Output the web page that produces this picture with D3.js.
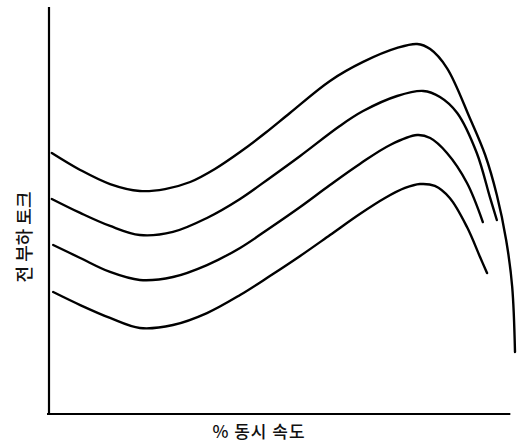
<!DOCTYPE html>
<html>
<head>
<meta charset="utf-8">
<script src="https://cdn.jsdelivr.net/npm/d3@7"></script>
<style>
  html, body { margin: 0; padding: 0; background: #fff; }
  svg { display: block; }
  .lbl { font-family: "Noto Sans CJK KR", "Noto Sans", sans-serif; fill: #111; }
</style>
</head>
<body>
<svg id="chart" width="521" height="447"></svg>
<script>
// Torque–speed curves: % synchronous speed vs. torque, four load families
const speed1  = [0.6, 6.7, 13.1, 19.5, 24.9, 30.3, 35.6, 41.0, 46.4, 51.7, 60.3, 67.4, 74.7, 79.0, 81.8, 85.4, 90.3, 93.6, 96.1, 98.1, 99.4, 100];
const torque1 = [192.4, 179.9, 169.5, 164.4, 165.8, 171.0, 180.6, 193.1, 207.1, 221.9, 245.5, 259.5, 269.8, 272.7, 269.0, 255.0, 218.2, 190.9, 161.4, 128.3, 93.6, 45.7];

const speed2  = [0.6, 6.7, 13.1, 19.5, 26.6, 33.9, 41.0, 47.4, 53.9, 62.4, 67.4, 74.7, 80.3, 83.9, 87.6, 91.8, 94.6, 96.1];
const torque2 = [158.5, 148.2, 138.6, 131.9, 134.2, 144.5, 158.5, 174.0, 190.2, 212.3, 223.3, 234.4, 238.1, 233.7, 221.9, 192.4, 160.0, 143.0];

const speed3  = [0.9, 6.7, 13.1, 19.5, 26.6, 33.9, 41.0, 47.4, 53.9, 60.3, 66.7, 73.2, 79.0, 81.8, 85.4, 89.7, 93.1];
const torque3 = [124.6, 115.0, 104.7, 98.8, 101.0, 109.8, 122.4, 137.1, 152.6, 168.8, 184.3, 198.3, 205.6, 203.4, 192.4, 170.3, 141.5];

const speed4  = [0.9, 6.7, 13.1, 19.5, 26.6, 33.9, 41.0, 47.4, 53.9, 60.3, 66.7, 72.1, 76.4, 79.6, 82.8, 86.0, 89.7, 92.5, 94.0];
const torque4 = [89.9, 80.3, 70.8, 63.4, 65.6, 74.4, 87.7, 101.7, 116.5, 131.9, 147.4, 159.2, 166.6, 169.5, 168.1, 159.2, 137.8, 115.7, 103.9];

const xTitle = "% 동시 속도";
const yTitle = "전 부하 토크";

const svg = d3.select("#chart");

const x = d3.scaleLinear().domain([0, 100]).range([49, 515]);
const y = d3.scaleLinear().domain([0, 300]).range([414, 7]);

// Axes: plain lines, no ticks
svg.append("line")
  .attr("x1", x(0)).attr("x2", x(0))
  .attr("y1", y(0) + 1).attr("y2", y(300))
  .attr("stroke", "#000").attr("stroke-width", 2.2);
svg.append("line")
  .attr("x1", x(0) - 2).attr("x2", x(99))
  .attr("y1", y(0)).attr("y2", y(0))
  .attr("stroke", "#000").attr("stroke-width", 2.2);

const line = d3.line()
  .x(d => x(d[0]))
  .y(d => y(d[1]))
  .curve(d3.curveCatmullRom.alpha(0.5));

const series = [
  d3.zip(speed1, torque1),
  d3.zip(speed2, torque2),
  d3.zip(speed3, torque3),
  d3.zip(speed4, torque4)
];

svg.selectAll("path.curve")
  .data(series)
  .join("path")
  .attr("class", "curve")
  .attr("d", line)
  .attr("fill", "none")
  .attr("stroke", "#000")
  .attr("stroke-width", 2.4)
  .attr("stroke-linecap", "round")
  .attr("stroke-linejoin", "round");

// Axis titles
svg.append("text")
  .attr("class", "lbl")
  .attr("x", 259).attr("y", 438)
  .attr("text-anchor", "middle")
  .attr("font-size", 17)
  .attr("font-weight", 500)
  .attr("letter-spacing", 1)
  .text(xTitle);

svg.append("text")
  .attr("class", "lbl")
  .attr("transform", "translate(31,237) rotate(-90)")
  .attr("text-anchor", "middle")
  .attr("font-size", 18)
  .attr("font-weight", 500)
  .text(yTitle);
</script>
</body>
</html>
